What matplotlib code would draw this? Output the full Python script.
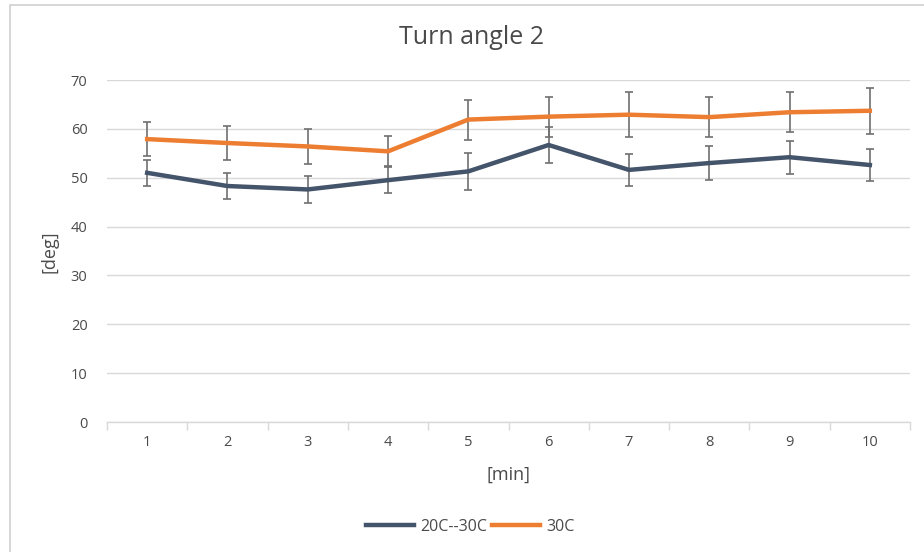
import matplotlib
matplotlib.use("Agg")
import matplotlib.pyplot as plt
from matplotlib.patches import Rectangle
from matplotlib.lines import Line2D

minutes = [1, 2, 3, 4, 5, 6, 7, 8, 9, 10]
s1_name = "20C--30C"
s1_vals = [51.0, 48.3, 47.6, 49.5, 51.3, 56.7, 51.6, 53.0, 54.2, 52.6]
s1_err = [2.6, 2.6, 2.8, 2.7, 3.8, 3.7, 3.2, 3.5, 3.4, 3.3]
s2_name = "30C"
s2_vals = [57.9, 57.1, 56.4, 55.4, 61.9, 62.5, 62.9, 62.4, 63.4, 63.7]
s2_err = [3.5, 3.5, 3.5, 3.1, 4.1, 4.1, 4.6, 4.1, 4.1, 4.7]
yticks = [0, 10, 20, 30, 40, 50, 60, 70]

W, H = 924, 552
fig = plt.figure(figsize=(W / 100, H / 100), dpi=100)
plt.rcParams['font.family'] = ['Open Sans', 'DejaVu Sans']
tcol = '#4a4a4a'

# chart border
fig.patches.append(Rectangle((10 / W, -0.1), 1.2, (552 - 5) / H + 0.1, transform=fig.transFigure,
                             fill=False, edgecolor='#d0d0d0', linewidth=1.2))

left, right, top, bottom = 107, 910, 80, 422
ax = fig.add_axes([left / W, 1 - bottom / H, (right - left) / W, (bottom - top) / H])

c1 = '#44546A'
c2 = '#ED7D31'
ecol = '#707070'
ax.errorbar(minutes, s1_vals, yerr=s1_err, color=c1, lw=3.2, ecolor=ecol, elinewidth=1.2,
            capsize=3, capthick=1.2, zorder=3)
ax.errorbar(minutes, s2_vals, yerr=s2_err, color=c2, lw=3.2, ecolor=ecol, elinewidth=1.2,
            capsize=3, capthick=1.2, zorder=4)

ax.set_xlim(0.5, 10.5)
ax.set_ylim(0, 70)
ax.set_yticks(yticks)
ax.set_xticks(minutes)
ax.set_xticks([m - 0.5 for m in minutes] + [10.5], minor=True)
ax.grid(axis='y', color='#d9d9d9', lw=1)
ax.set_axisbelow(True)
for s in ['top', 'right', 'left']:
    ax.spines[s].set_visible(False)
ax.spines['bottom'].set_color('#d9d9d9')
ax.spines['bottom'].set_linewidth(1)
ax.tick_params(axis='y', length=0, pad=14, labelsize=10.5, labelcolor=tcol)
ax.tick_params(axis='x', which='major', length=0, pad=9, labelsize=10.5, labelcolor=tcol)
ax.tick_params(axis='x', which='minor', length=6, color='#d9d9d9', width=1)

fig.text(472 / W, 1 - 38 / H, "Turn angle 2", ha='center', va='center', fontsize=18, color=tcol)
fig.text(50 / W, 1 - 252 / H, "[deg]", ha='center', va='center', rotation=90, fontsize=13, color=tcol)
fig.text(508 / W, 1 - 475 / H, "[min]", ha='center', va='center', fontsize=13, color=tcol)

handles = [Line2D([0], [0], color=c1, lw=3.2), Line2D([0], [0], color=c2, lw=3.2)]
fig.legend(handles, [s1_name, s2_name], loc='center', bbox_to_anchor=(470 / W, 1 - 527 / H),
           ncol=2, frameon=False, fontsize=11.5, handlelength=3.0, columnspacing=0.3,
           handletextpad=0.4, labelcolor=tcol)

fig.savefig("out.png", dpi=100)
